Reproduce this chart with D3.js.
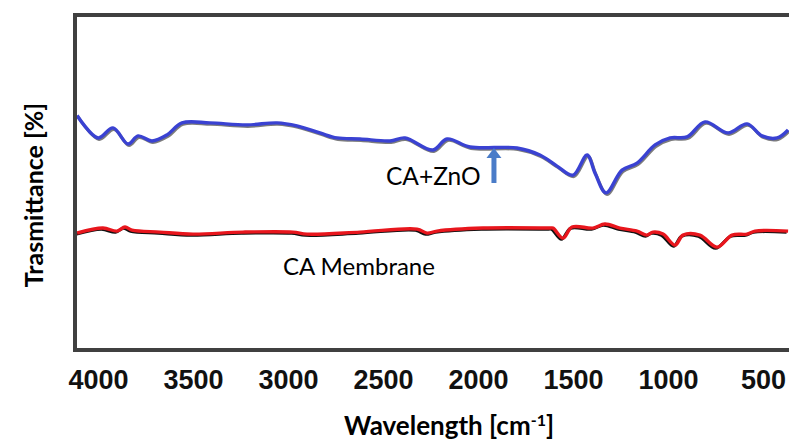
<!DOCTYPE html>
<html>
<head>
<meta charset="utf-8">
<script src="https://cdn.jsdelivr.net/npm/d3@7"></script>
<style>
  html, body { margin: 0; padding: 0; background: #fff; }
  svg { display: block; }
</style>
</head>
<body>
<div id="chart"></div>
<script>
// Setup
const W = 789, H = 441;
const frame = { left: 75, top: 15, bottom: 350 };

// wavenumber ticks (reversed axis)
const xTicks = [4000, 3500, 3000, 2500, 2000, 1500, 1000, 500];

// CA+ZnO spectrum (wavenumber, transmittance a.u.)
const znoWave = [4110, 4000, 3921, 3842, 3789, 3716, 3637, 3558, 3411, 3216, 3058, 2953, 2832, 2742, 2621, 2463, 2384, 2237, 2163, 2042, 1795, 1674, 1584, 1500, 1426, 1384, 1326, 1242, 1163, 1068, 989, 900, 805, 684, 584, 505, 426, 368];
const znoT = [70.0, 63.3, 66.3, 61.5, 63.9, 62.4, 64.2, 67.8, 67.8, 67.2, 67.8, 66.9, 64.8, 63.3, 63.0, 62.4, 63.3, 59.7, 63.0, 60.6, 60.3, 58.2, 54.9, 52.2, 58.2, 52.8, 46.9, 53.7, 55.8, 61.2, 63.3, 63.6, 68.1, 64.8, 67.5, 63.9, 63.3, 65.7];

// CA membrane spectrum
const caWave = [4110, 3974, 3900, 3858, 3821, 3674, 3500, 3237, 2974, 2900, 2621, 2321, 2268, 2216, 1974, 1621, 1605, 1553, 1505, 1395, 1332, 1253, 1163, 1111, 1079, 1026, 963, 921, 832, 742, 663, 584, 542, 368];
const caT = [34.9, 36.4, 35.5, 36.7, 35.8, 35.2, 34.6, 35.2, 35.2, 34.6, 35.2, 36.1, 34.9, 35.5, 36.4, 36.4, 36.4, 33.4, 36.7, 36.4, 37.6, 36.4, 35.5, 34.3, 35.2, 34.6, 31.3, 34.3, 34.3, 30.7, 34.3, 34.6, 35.5, 35.5];

// band marked by the arrow
const arrowWave = 1916;

const svg = d3.select("#chart").append("svg")
  .attr("width", W).attr("height", H);

const x = d3.scaleLinear().domain([4000, 500]).range([98, 763]);
const y = d3.scaleLinear().domain([0, 100]).range([350, 15]);

svg.append("clipPath").attr("id", "plotclip")
  .append("rect").attr("x", frame.left + 2).attr("y", frame.top + 2)
  .attr("width", W - frame.left).attr("height", frame.bottom - frame.top - 4);

const line = d3.line()
  .x(d => x(d[0])).y(d => y(d[1]))
  .curve(d3.curveCatmullRom.alpha(0.5));

const zno = d3.zip(znoWave, znoT);
const ca = d3.zip(caWave, caT);

const g = svg.append("g").attr("clip-path", "url(#plotclip)");

// dark traces underneath
g.append("path").datum(zno).attr("d", line)
  .attr("fill", "none").attr("stroke", "#444").attr("stroke-opacity", 0.7)
  .attr("stroke-width", 3).attr("transform", "translate(1,1.5)");
g.append("path").datum(ca).attr("d", line)
  .attr("fill", "none").attr("stroke", "#111")
  .attr("stroke-width", 3).attr("transform", "translate(-1.5,1.2)");

g.append("path").datum(zno).attr("d", line)
  .attr("fill", "none").attr("stroke", "#3a42d2").attr("stroke-width", 3.4)
  .attr("stroke-linejoin", "round");
g.append("path").datum(ca).attr("d", line)
  .attr("fill", "none").attr("stroke", "#e8161d").attr("stroke-width", 3.4)
  .attr("stroke-linejoin", "round");

// frame (right side runs off the page)
svg.append("path")
  .attr("d", `M${W + 10},${frame.top}H${frame.left}V${frame.bottom}H${W + 10}`)
  .attr("fill", "none").attr("stroke", "#404040").attr("stroke-width", 4);

// x axis
const xAxis = svg.append("g").attr("transform", `translate(0,${frame.bottom})`)
  .call(d3.axisBottom(x).tickValues(xTicks).tickSize(0).tickFormat(d3.format("d")));
xAxis.select(".domain").remove();
xAxis.selectAll("text")
  .attr("y", 39).attr("dy", null)
  .style("font-family", "'Liberation Sans Narrow', 'Liberation Sans', Arial, sans-serif")
  .style("font-size", "27px").style("font-weight", "bold").attr("fill", "#111");

// axis titles
const title = svg.append("text").attr("x", 449).attr("y", 435)
  .attr("text-anchor", "middle")
  .style("font-family", "Lato, sans-serif").style("font-size", "26px").style("font-weight", "bold")
  .attr("fill", "#000");
title.append("tspan").text("Wavelength [cm");
title.append("tspan").attr("dy", -9).style("font-size", "16px").text("-1");
title.append("tspan").attr("dy", 9).text("]");

svg.append("text").attr("transform", "translate(43,195) rotate(-90)")
  .attr("text-anchor", "middle")
  .style("font-family", "Lato, sans-serif").style("font-size", "25px").style("font-weight", "bold")
  .attr("fill", "#000").text("Trasmittance [%]");

// series labels
svg.append("text").attr("x", 386).attr("y", 185)
  .style("font-family", "Lato, sans-serif").style("font-size", "24.5px").attr("fill", "#000")
  .text("CA+ZnO");
svg.append("text").attr("x", 283).attr("y", 275)
  .style("font-family", "Lato, sans-serif").style("font-size", "24px").attr("fill", "#000")
  .text("CA Membrane");

// arrow marking the band
const ax = x(arrowWave);
svg.append("path")
  .attr("d", `M${ax - 2.5},183V158H${ax - 7.5}L${ax},148L${ax + 7.5},158H${ax + 2.5}V183Z`)
  .attr("fill", "#4a7cc8");
</script>
</body>
</html>
